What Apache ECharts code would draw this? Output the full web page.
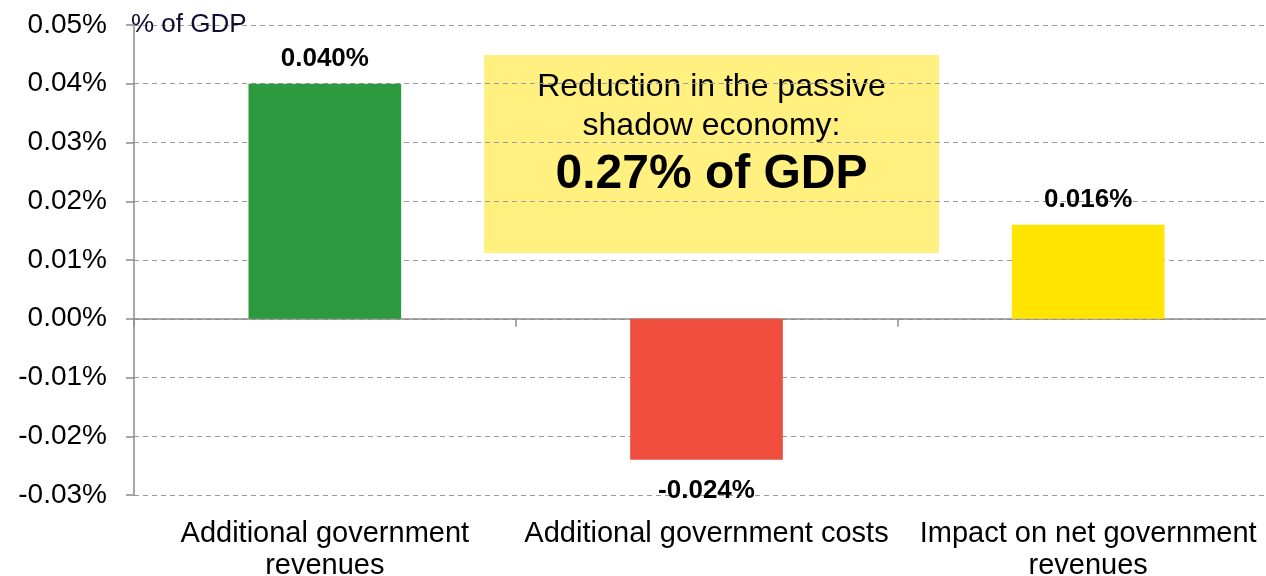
<!DOCTYPE html>
<html>
<head>
<meta charset="utf-8">
<script src="https://cdn.jsdelivr.net/npm/echarts@6/dist/echarts.min.js"></script>
<style>
  html, body { margin: 0; padding: 0; background: #ffffff; }
  #chart { width: 1266px; height: 576px; }
</style>
</head>
<body>
<div id="chart"></div>
<script>
// Fiscal effects of the reduction, in % of GDP
const categories = [
  'Additional government\nrevenues',
  'Additional government costs',
  'Impact on net government\nrevenues'
];
const values = [0.040, -0.024, 0.016];
const barColors = ['#2E9A40', '#EF4E3F', '#FFE500'];
const yTicks = { min: -0.03, max: 0.05, step: 0.01 };
const boxLines = ['Reduction in the passive', 'shadow economy:', '0.27% of GDP'];

const FONT = '"Liberation Sans", Arial, sans-serif';
const AXIS_GRAY = '#8c8c8c';

const chart = echarts.init(document.getElementById('chart'), null, { renderer: 'canvas' });

const barData = values.map((v, i) => ({
  value: v,
  itemStyle: { color: barColors[i] },
  label: v < 0 ? { position: 'bottom', distance: 18 } : { position: 'top', distance: 12 }
}));

chart.setOption({
  animation: false,
  backgroundColor: '#ffffff',
  grid: {
    left: 134, top: 25, width: 1145, height: 470,
    containLabel: false,
    outerBoundsMode: 'none'
  },
  xAxis: [
    {
      // category labels along the bottom
      type: 'category',
      data: categories,
      position: 'bottom',
      axisLine: { show: false, onZero: false },
      axisTick: { show: false },
      splitLine: { show: false },
      axisLabel: {
        margin: 23,
        fontFamily: FONT,
        fontSize: 29,
        lineHeight: 32,
        color: '#000000',
        interval: 0
      }
    },
    {
      // baseline at zero with tick marks between categories
      type: 'category',
      data: categories,
      position: 'bottom',
      axisLine: { show: true, onZero: true, lineStyle: { color: AXIS_GRAY, width: 1.5 } },
      axisTick: { show: true, length: 8, lineStyle: { color: AXIS_GRAY, width: 1.5 } },
      axisLabel: { show: false },
      splitLine: { show: false }
    }
  ],
  yAxis: {
    type: 'value',
    min: yTicks.min,
    max: yTicks.max,
    interval: yTicks.step,
    name: '% of GDP',
    nameLocation: 'end',
    nameGap: 0,
    nameTextStyle: {
      fontFamily: FONT,
      fontSize: 26,
      color: '#0e0e33',
      align: 'left',
      verticalAlign: 'middle',
      padding: [0, 0, 0, -3]
    },
    axisLine: { show: true, lineStyle: { color: AXIS_GRAY, width: 1.5 } },
    axisTick: { show: true, length: 8, lineStyle: { color: AXIS_GRAY, width: 1.5 } },
    axisLabel: {
      margin: 27,
      fontFamily: FONT,
      fontSize: 28,
      color: '#000000',
      formatter: v => v.toFixed(2) + '%'
    },
    splitLine: {
      show: true,
      lineStyle: { color: '#9a9a9a', type: [5, 4], width: 1.2 }
    }
  },
  series: [
    {
      type: 'bar',
      xAxisIndex: 0,
      data: barData,
      barWidth: '40%',
      label: {
        show: true,
        fontFamily: FONT,
        fontSize: 26,
        fontWeight: 'bold',
        color: '#000000',
        formatter: p => p.value.toFixed(3) + '%'
      }
    }
  ],
  graphic: [
    {
      type: 'group',
      left: 484,
      top: 55,
      children: [
        { type: 'rect', shape: { x: 0, y: 0, width: 455, height: 198 }, style: { fill: '#FFF07F' } },
        {
          type: 'text', x: 227.5, y: 32,
          style: { text: boxLines[0], font: '32px ' + FONT, fill: '#000', align: 'center', verticalAlign: 'middle' }
        },
        {
          type: 'text', x: 227.5, y: 71,
          style: { text: boxLines[1], font: '32px ' + FONT, fill: '#000', align: 'center', verticalAlign: 'middle' }
        },
        {
          type: 'text', x: 227.5, y: 120,
          style: { text: boxLines[2], font: 'bold 48px ' + FONT, fill: '#000', align: 'center', verticalAlign: 'middle' }
        }
      ]
    }
  ]
});
</script>
</body>
</html>
